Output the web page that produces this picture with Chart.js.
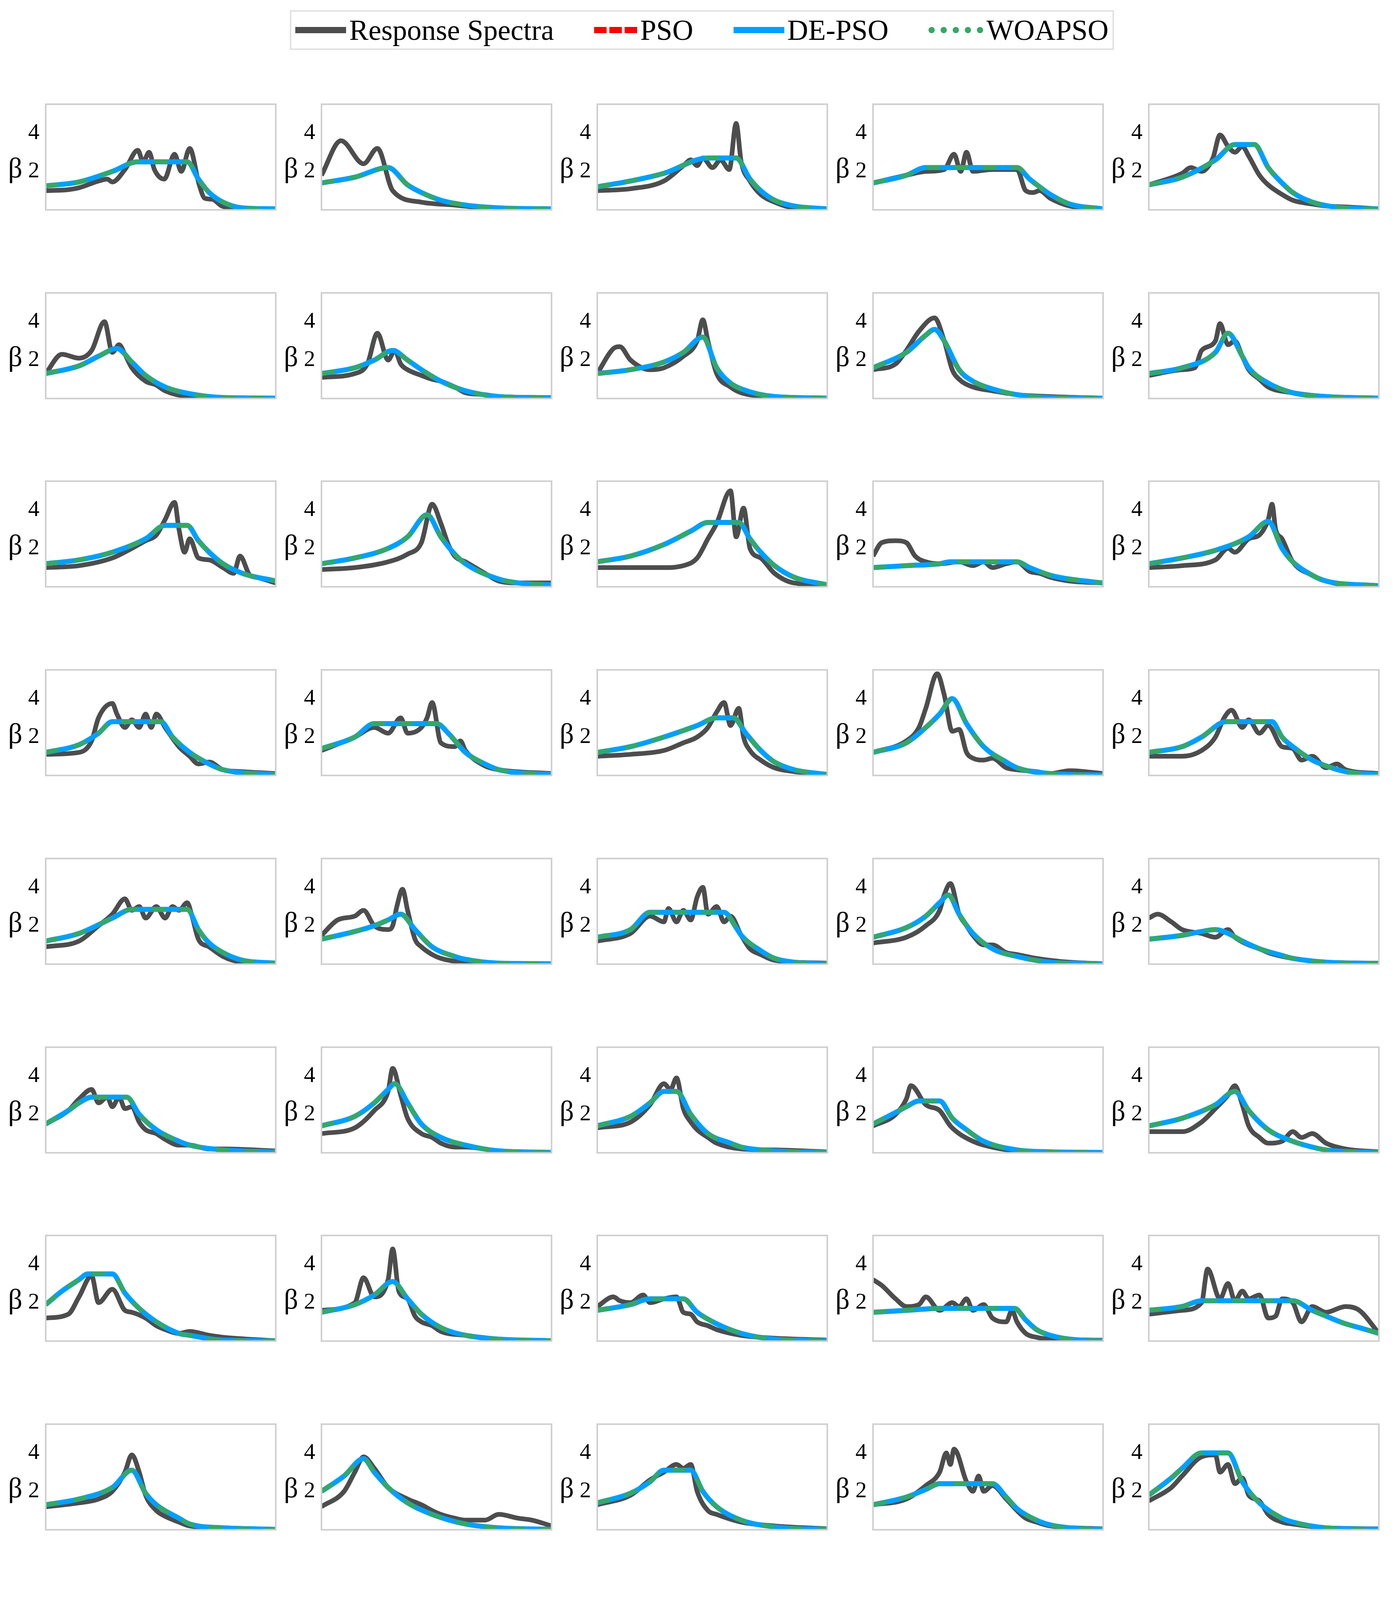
<!DOCTYPE html>
<html>
<head>
<meta charset="utf-8">
<title>Response spectra fitting</title>
<script src="https://cdn.jsdelivr.net/npm/chart.js"></script>
<style>
  body { margin: 0; background: #fff; width: 3579px; height: 5132px; position: relative; font-family: "Liberation Serif", serif; overflow: hidden; }
  canvas { position: absolute; }
  #legend {
    position: absolute; left: 742px; top: 26px; width: 2110px; height: 102px;
    border: 4px solid #e2e2e2; box-sizing: border-box;
    display: flex; align-items: center; justify-content: space-between; padding: 0 10px;
    font-size: 74px; color: #000;
  }
  .item { display: flex; align-items: center; }
  .sw { width: 130px; height: 0; margin-right: 8px; }
</style>
</head>
<body>
<div id="legend">
  <div class="item"><span class="sw" style="border-top:16px solid #4d4d4d"></span>Response Spectra</div>
  <div class="item"><span class="sw" style="border-top:16px dashed #ff0000;width:110px"></span>PSO</div>
  <div class="item"><span class="sw" style="border-top:16px solid #00a0ff"></span>DE-PSO</div>
  <div class="item"><span class="sw" style="border-top:16px dotted #35a865;width:140px"></span>WOAPSO</div>
</div>
<script>
// [period T(s), beta] pairs, row by row
const spectra = [
  [[0.05,1.0],[0.08,1.05],[0.1,1.15],[0.15,1.5],[0.18,1.6],[0.2,1.45],[0.26,2.1],[0.34,3.1],[0.38,2.5],[0.43,3.0],[0.48,2.1],[0.59,1.6],[0.73,2.9],[0.84,2.0],[1.0,3.2],[1.22,1.3],[1.37,0.6],[1.6,0.55],[1.95,0.2],[2.8,0.05],[6,0.05]],
  [[0.05,1.8],[0.075,3.6],[0.12,2.4],[0.16,3.2],[0.22,1.0],[0.4,0.4],[0.8,0.25],[1.5,0.1],[6,0.05]],
  [[0.05,1.0],[0.1,1.1],[0.2,1.5],[0.3,2.3],[0.35,2.6],[0.4,2.3],[0.45,2.7],[0.55,2.2],[0.65,2.6],[0.78,2.1],[0.9,4.5],[1.0,2.5],[1.2,1.5],[1.5,0.8],[2,0.4],[3,0.1],[6,0.05]],
  [[0.05,1.4],[0.1,1.8],[0.15,2.0],[0.22,2.1],[0.27,2.9],[0.31,2.0],[0.35,3.0],[0.4,2.0],[0.6,2.1],[1.0,2.1],[1.2,1.0],[1.4,0.9],[1.6,1.0],[2,0.6],[3,0.2],[6,0.05]],
  [[0.05,1.3],[0.1,1.9],[0.12,2.2],[0.15,2.0],[0.19,2.7],[0.22,3.9],[0.26,3.3],[0.3,3.0],[0.35,3.3],[0.4,2.8],[0.5,1.8],[0.6,1.3],[0.8,0.8],[1,0.5],[1.5,0.3],[2,0.2],[3,0.15],[6,0.05]],
  [[0.05,1.3],[0.07,2.3],[0.1,2.1],[0.13,2.5],[0.17,4.0],[0.2,2.4],[0.23,2.8],[0.26,2.3],[0.3,1.6],[0.4,0.9],[0.5,0.7],[0.6,0.4],[1,0.1],[6,0.02]],
  [[0.05,1.1],[0.1,1.3],[0.13,1.8],[0.16,3.4],[0.2,2.0],[0.23,2.5],[0.26,1.8],[0.3,1.5],[0.4,1.2],[0.5,1.0],[0.6,0.9],[0.8,0.6],[1,0.3],[1.5,0.2],[2,0.1],[6,0.05]],
  [[0.05,1.3],[0.07,2.6],[0.08,2.7],[0.1,2.0],[0.15,1.5],[0.2,1.6],[0.3,2.2],[0.4,3.0],[0.45,4.1],[0.5,3.0],[0.6,1.3],[0.8,0.6],[1,0.3],[2,0.1],[6,0.02]],
  [[0.05,1.5],[0.08,1.8],[0.1,2.5],[0.13,3.5],[0.18,4.2],[0.22,3.0],[0.26,1.5],[0.3,1.0],[0.4,0.6],[0.6,0.4],[1,0.2],[2,0.1],[6,0.02]],
  [[0.05,1.2],[0.1,1.5],[0.13,1.6],[0.15,2.5],[0.2,3.0],[0.22,3.9],[0.26,2.8],[0.3,3.0],[0.35,2.2],[0.4,1.5],[0.5,1.0],[0.6,0.6],[1,0.3],[2,0.1],[6,0.02]],
  [[0.05,1.0],[0.1,1.1],[0.2,1.5],[0.3,2.0],[0.4,2.4],[0.5,2.7],[0.6,3.5],[0.73,4.4],[0.8,3.0],[0.9,1.8],[1.0,2.5],[1.2,1.5],[1.5,1.4],[2,1.0],[2.5,0.7],[2.85,1.6],[3.5,0.6],[4,0.5],[6,0.2]],
  [[0.05,0.9],[0.1,1.0],[0.2,1.3],[0.3,1.7],[0.4,2.3],[0.5,4.3],[0.6,3.3],[0.7,2.2],[0.8,1.6],[1,1.3],[1.5,0.7],[2,0.3],[3,0.2],[6,0.2]],
  [[0.05,1.0],[0.1,1.0],[0.2,1.0],[0.3,1.1],[0.4,1.5],[0.5,2.5],[0.6,3.3],[0.8,5.0],[0.9,2.6],[1.05,4.1],[1.2,2.0],[1.5,1.5],[2,0.7],[3,0.2],[6,0.1]],
  [[0.05,1.6],[0.06,2.3],[0.08,2.4],[0.1,2.3],[0.12,1.6],[0.15,1.3],[0.2,1.2],[0.3,1.3],[0.4,1.1],[0.5,1.3],[0.6,1.0],[0.8,1.2],[1,1.3],[1.3,0.8],[1.6,0.7],[2,0.5],[3,0.3],[6,0.2]],
  [[0.05,1.0],[0.1,1.1],[0.2,1.4],[0.26,2.0],[0.3,1.8],[0.4,2.5],[0.5,2.7],[0.6,3.5],[0.65,4.3],[0.7,3.0],[0.8,2.5],[1,1.3],[1.5,0.6],[2,0.3],[3,0.1],[6,0.05]],
  [[0.05,1.1],[0.1,1.2],[0.13,1.8],[0.15,3.0],[0.2,3.75],[0.22,3.2],[0.26,2.5],[0.3,2.9],[0.35,2.5],[0.4,3.2],[0.45,2.5],[0.5,3.2],[0.6,2.5],[0.8,1.5],[1,1.0],[1.2,0.6],[1.5,0.7],[2,0.3],[3,0.2],[6,0.1]],
  [[0.05,1.3],[0.1,2.0],[0.15,2.5],[0.2,2.2],[0.26,3.0],[0.3,2.2],[0.4,2.5],[0.45,3.0],[0.5,3.8],[0.6,1.7],[0.8,1.5],[0.9,1.8],[1,1.3],[1.5,0.5],[2,0.3],[6,0.1]],
  [[0.05,1.0],[0.1,1.1],[0.2,1.3],[0.3,1.7],[0.4,2.0],[0.5,2.5],[0.6,3.3],[0.7,3.8],[0.8,2.6],[0.95,3.5],[1.05,2.0],[1.2,1.3],[1.5,0.8],[2,0.4],[3,0.2],[6,0.05]],
  [[0.05,1.2],[0.1,1.8],[0.13,2.5],[0.15,3.5],[0.19,5.3],[0.22,4.2],[0.26,2.3],[0.3,2.4],[0.35,1.2],[0.4,0.9],[0.5,0.8],[0.6,0.9],[0.8,0.4],[1,0.3],[1.5,0.2],[2,0.1],[3,0.25],[6,0.1]],
  [[0.05,1.0],[0.1,1.0],[0.15,1.3],[0.2,2.0],[0.24,3.0],[0.28,3.4],[0.35,2.5],[0.4,2.9],[0.5,2.2],[0.6,2.6],[0.8,1.5],[1,1.4],[1.2,0.8],[1.5,1.0],[2,0.4],[2.5,0.6],[3,0.3],[6,0.1]],
  [[0.05,0.9],[0.1,1.2],[0.15,2.0],[0.2,2.6],[0.26,3.4],[0.3,2.8],[0.35,3.0],[0.4,2.4],[0.5,3.0],[0.6,2.4],[0.7,3.0],[0.8,2.8],[0.95,3.2],[1.05,2.5],[1.2,1.3],[1.5,0.9],[2,0.4],[3,0.1],[6,0.05]],
  [[0.05,1.5],[0.07,2.3],[0.1,2.5],[0.12,2.8],[0.15,2.0],[0.2,1.8],[0.22,2.0],[0.24,3.0],[0.27,3.9],[0.3,2.8],[0.35,1.3],[0.4,0.9],[0.5,0.5],[0.6,0.3],[1,0.1],[6,0.02]],
  [[0.05,1.2],[0.1,1.6],[0.15,2.5],[0.2,2.2],[0.22,2.9],[0.26,2.2],[0.3,2.8],[0.35,2.3],[0.4,3.5],[0.45,4.0],[0.5,2.6],[0.6,3.0],[0.7,2.2],[0.8,2.5],[1,1.5],[1.2,0.8],[1.5,0.5],[2,0.2],[6,0.05]],
  [[0.05,1.1],[0.1,1.4],[0.15,2.0],[0.2,2.8],[0.22,3.6],[0.25,4.2],[0.3,2.6],[0.35,2.0],[0.4,1.5],[0.5,1.0],[0.6,1.0],[0.8,0.6],[1,0.5],[1.5,0.3],[2,0.2],[3,0.1],[6,0.02]],
  [[0.05,2.4],[0.06,2.6],[0.08,2.2],[0.1,1.8],[0.15,1.6],[0.2,1.4],[0.26,1.8],[0.3,1.4],[0.4,1.0],[0.5,0.8],[0.6,0.6],[1,0.3],[2,0.1],[6,0.05]],
  [[0.05,1.5],[0.08,2.2],[0.1,2.8],[0.13,3.3],[0.15,2.6],[0.18,2.9],[0.2,2.4],[0.23,2.9],[0.26,2.3],[0.3,2.4],[0.35,1.6],[0.4,1.2],[0.5,1.0],[0.6,0.7],[0.8,0.4],[1,0.4],[1.5,0.2],[2,0.2],[6,0.1]],
  [[0.05,1.0],[0.1,1.3],[0.15,2.2],[0.2,3.2],[0.22,4.4],[0.26,3.0],[0.3,1.8],[0.4,1.0],[0.5,0.8],[0.6,0.5],[0.8,0.3],[1,0.3],[2,0.1],[6,0.02]],
  [[0.05,1.3],[0.1,1.6],[0.15,2.5],[0.2,3.6],[0.23,3.3],[0.26,3.9],[0.3,2.3],[0.35,1.6],[0.4,1.2],[0.5,0.8],[0.6,0.5],[1,0.2],[2,0.15],[6,0.05]],
  [[0.05,1.4],[0.08,2.0],[0.1,2.8],[0.11,3.5],[0.15,2.5],[0.2,2.2],[0.25,1.4],[0.3,1.0],[0.4,0.6],[0.5,0.4],[1,0.1],[6,0.02]],
  [[0.05,1.1],[0.1,1.1],[0.15,1.6],[0.2,2.3],[0.26,3.0],[0.3,3.5],[0.35,2.5],[0.4,1.4],[0.5,0.8],[0.6,0.5],[0.8,0.6],[1,1.1],[1.2,0.8],[1.5,1.0],[2,0.5],[3,0.2],[6,0.05]],
  [[0.05,1.2],[0.08,1.4],[0.1,2.3],[0.13,3.4],[0.15,2.0],[0.2,2.7],[0.26,1.6],[0.3,1.5],[0.4,1.2],[0.5,0.8],[0.6,0.6],[0.8,0.4],[1,0.5],[1.5,0.3],[2,0.2],[6,0.02]],
  [[0.05,1.6],[0.1,2.0],[0.12,3.3],[0.15,2.3],[0.2,3.2],[0.22,4.8],[0.25,2.6],[0.3,2.2],[0.35,1.3],[0.4,1.0],[0.5,0.8],[0.6,0.5],[1,0.3],[2,0.1],[6,0.02]],
  [[0.05,1.8],[0.07,2.3],[0.08,2.1],[0.1,2.0],[0.13,2.4],[0.15,2.0],[0.2,2.2],[0.26,2.3],[0.3,1.5],[0.35,1.4],[0.4,1.0],[0.5,0.8],[0.6,0.6],[1,0.3],[2,0.15],[6,0.05]],
  [[0.05,3.2],[0.06,2.9],[0.08,2.2],[0.1,1.8],[0.13,1.9],[0.15,2.3],[0.2,1.6],[0.26,2.0],[0.3,1.8],[0.35,2.2],[0.4,1.6],[0.5,1.9],[0.6,1.2],[0.8,1.0],[0.9,1.6],[1,1.0],[1.2,0.4],[1.5,0.2],[2,0.1],[6,0.05]],
  [[0.05,1.4],[0.1,1.6],[0.15,2.0],[0.17,3.75],[0.22,2.2],[0.26,3.0],[0.3,2.1],[0.35,2.6],[0.4,2.2],[0.5,2.4],[0.6,1.2],[0.7,1.3],[0.8,2.2],[1.0,2.0],[1.2,1.0],[1.5,1.8],[2,1.5],[3,1.8],[4,1.6],[6,0.4]],
  [[0.05,1.2],[0.1,1.4],[0.15,1.6],[0.2,2.0],[0.26,3.0],[0.3,3.9],[0.35,3.0],[0.4,1.8],[0.5,1.0],[0.6,0.7],[0.8,0.4],[1,0.2],[2,0.1],[6,0.02]],
  [[0.05,1.2],[0.08,2.0],[0.1,3.0],[0.12,3.8],[0.15,3.2],[0.2,2.2],[0.3,1.6],[0.4,1.3],[0.5,1.0],[0.6,0.8],[0.8,0.6],[1,0.5],[1.5,0.5],[2,0.8],[3,0.6],[4,0.5],[6,0.2]],
  [[0.05,1.3],[0.1,1.8],[0.15,2.6],[0.2,3.0],[0.26,3.4],[0.3,3.2],[0.35,3.4],[0.4,2.0],[0.5,1.0],[0.6,0.8],[1,0.4],[2,0.2],[6,0.05]],
  [[0.05,1.3],[0.1,1.6],[0.15,2.3],[0.2,3.0],[0.23,4.0],[0.25,3.4],[0.27,4.2],[0.35,2.5],[0.4,2.0],[0.45,2.8],[0.5,2.0],[0.6,2.3],[0.8,1.6],[1,1.0],[1.2,0.6],[1.5,0.4],[2,0.2],[6,0.05]],
  [[0.05,1.5],[0.08,2.2],[0.1,2.8],[0.15,3.8],[0.2,3.9],[0.22,3.0],[0.26,3.4],[0.3,2.4],[0.35,2.7],[0.4,1.8],[0.5,1.5],[0.6,0.8],[0.8,0.4],[1,0.3],[2,0.1],[6,0.05]],
  [[0.05,1.0],[0.07,1.3],[0.08,2.0],[0.09,3.0],[0.1,3.8],[0.117,5.3],[0.13,3.5],[0.15,1.8],[0.2,0.9],[0.3,0.6],[0.5,0.3],[1,0.15],[2,0.05],[6,0.02]],
  [[0.05,1.1],[0.1,1.2],[0.2,1.8],[0.3,2.2],[0.4,2.6],[0.46,3.3],[0.5,2.8],[0.6,2.3],[0.7,2.0],[0.8,2.6],[0.9,2.4],[1.0,2.0],[1.2,1.0],[1.5,0.5],[2,0.2],[6,0.05]],
  [[0.05,1.1],[0.1,1.3],[0.2,1.8],[0.26,2.8],[0.3,2.4],[0.35,3.2],[0.4,2.2],[0.5,2.3],[0.6,2.2],[0.7,2.5],[0.8,1.8],[1,1.2],[1.2,0.8],[1.5,0.5],[2,0.2],[3,0.1],[6,0.2]],
  [[0.05,1.0],[0.1,1.0],[0.2,1.2],[0.3,1.1],[0.4,1.3],[0.5,1.2],[0.6,1.2],[0.8,1.5],[0.9,1.0],[1.0,1.8],[1.14,4.9],[1.3,3.0],[1.5,1.0],[2,0.3],[3,0.1],[6,0.05]],
  [[0.05,1.0],[0.1,1.1],[0.2,1.4],[0.3,1.5],[0.4,1.7],[0.5,2.2],[0.6,2.5],[0.73,4.0],[0.8,2.5],[0.9,3.0],[1.0,2.3],[1.2,2.0],[1.37,4.5],[1.5,2.0],[2,0.6],[3,0.3],[6,0.05]],
  [[0.05,1.7],[0.07,2.5],[0.09,3.2],[0.12,2.6],[0.15,1.9],[0.18,1.5],[0.2,1.0],[0.23,1.6],[0.26,1.5],[0.3,1.9],[0.35,1.5],[0.4,1.0],[0.5,1.9],[0.6,1.2],[0.7,0.7],[0.9,1.2],[1.0,1.3],[1.2,0.8],[1.5,0.4],[2,0.2],[3,0.1],[6,0.05]],
  [[0.05,0.9],[0.1,0.9],[0.2,1.0],[0.3,1.2],[0.4,1.6],[0.5,2.0],[0.6,2.4],[0.7,3.5],[0.8,5.2],[0.9,3.0],[1.0,2.5],[1.2,4.3],[1.3,3.0],[1.5,1.8],[2,0.8],[3,0.3],[6,0.05]],
  [[0.05,1.2],[0.1,1.5],[0.2,2.0],[0.3,2.8],[0.36,3.4],[0.4,2.5],[0.5,1.3],[0.6,1.5],[0.7,0.8],[0.8,1.0],[1,0.5],[1.5,0.3],[2,0.2],[6,0.05]],
  [[0.05,1.0],[0.1,1.1],[0.2,1.3],[0.3,1.6],[0.4,2.3],[0.45,3.0],[0.49,5.1],[0.55,2.5],[0.6,1.4],[0.8,0.9],[1,0.5],[1.5,0.3],[2,0.1],[6,0.05]],
  [[0.05,1.0],[0.1,1.2],[0.15,1.6],[0.2,2.3],[0.26,2.7],[0.3,2.7],[0.35,2.3],[0.4,2.0],[0.5,1.9],[0.6,2.0],[0.7,2.2],[0.8,1.5],[1,0.8],[1.5,0.3],[2,0.15],[6,0.05]]
];

// fitted design spectra (DE-PSO), same ordering
const fitDEPSO = [
  [[0.05,1.25],[0.1,1.45],[0.2,2.0],[0.34,2.5],[0.95,2.5],[1.2,1.6],[1.5,0.9],[2,0.4],[3,0.1],[6,0.05]],
  [[0.05,1.4],[0.1,1.7],[0.2,2.2],[0.3,1.3],[0.4,0.9],[0.6,0.5],[1,0.25],[2,0.1],[6,0.05]],
  [[0.05,1.2],[0.1,1.5],[0.2,1.9],[0.5,2.7],[0.9,2.7],[1.2,1.6],[1.5,1.0],[2,0.5],[3,0.2],[6,0.05]],
  [[0.05,1.4],[0.1,1.8],[0.15,2.2],[1.0,2.2],[1.3,1.6],[1.6,1.2],[2,0.8],[3,0.3],[6,0.05]],
  [[0.05,1.3],[0.1,1.7],[0.2,2.6],[0.3,3.4],[0.45,3.4],[0.6,2.2],[0.8,1.4],[1,0.9],[1.5,0.4],[3,0.1],[6,0.05]],
  [[0.05,1.3],[0.1,1.7],[0.15,2.2],[0.22,2.6],[0.3,1.9],[0.4,1.2],[0.6,0.6],[1,0.25],[2,0.05],[6,0.02]],
  [[0.05,1.3],[0.1,1.6],[0.15,2.0],[0.22,2.5],[0.3,2.0],[0.4,1.5],[0.6,0.9],[1,0.4],[2,0.1],[6,0.02]],
  [[0.05,1.3],[0.1,1.5],[0.2,1.9],[0.3,2.4],[0.45,3.2],[0.6,1.6],[0.8,0.8],[1,0.5],[2,0.1],[6,0.02]],
  [[0.05,1.6],[0.1,2.4],[0.15,3.3],[0.18,3.6],[0.22,3.0],[0.3,1.5],[0.4,0.9],[0.6,0.5],[1,0.2],[2,0.05],[6,0.02]],
  [[0.05,1.3],[0.1,1.6],[0.2,2.4],[0.26,3.4],[0.35,2.2],[0.4,1.6],[0.6,0.8],[1,0.3],[2,0.1],[6,0.02]],
  [[0.05,1.2],[0.1,1.4],[0.2,1.8],[0.4,2.5],[0.6,3.2],[0.95,3.2],[1.2,2.4],[1.5,1.8],[2,1.2],[3,0.7],[6,0.3]],
  [[0.05,1.2],[0.1,1.5],[0.2,2.0],[0.3,2.6],[0.45,3.75],[0.6,2.6],[0.8,1.7],[1,1.2],[2,0.4],[3,0.2],[6,0.1]],
  [[0.05,1.3],[0.1,1.6],[0.2,2.2],[0.35,2.9],[0.5,3.35],[0.95,3.35],[1.2,2.5],[1.5,1.8],[2,1.1],[3,0.5],[6,0.1]],
  [[0.05,1.0],[0.1,1.1],[0.2,1.2],[0.25,1.3],[1.0,1.3],[1.3,1.0],[2,0.6],[3,0.4],[6,0.2]],
  [[0.05,1.2],[0.1,1.5],[0.2,1.9],[0.4,2.6],[0.6,3.4],[0.8,2.0],[1,1.3],[1.5,0.6],[2,0.3],[6,0.05]],
  [[0.05,1.2],[0.1,1.6],[0.15,2.2],[0.2,2.8],[0.55,2.8],[0.7,2.0],[1,1.2],[1.5,0.6],[2,0.3],[6,0.05]],
  [[0.05,1.4],[0.1,2.0],[0.15,2.7],[0.55,2.7],[0.7,2.2],[1,1.2],[1.5,0.6],[2,0.3],[6,0.05]],
  [[0.05,1.2],[0.1,1.5],[0.2,2.0],[0.4,2.6],[0.6,3.0],[0.85,3.0],[1.1,2.2],[1.5,1.3],[2,0.7],[3,0.3],[6,0.05]],
  [[0.05,1.2],[0.1,1.7],[0.15,2.5],[0.2,3.2],[0.26,4.0],[0.35,2.7],[0.5,1.5],[0.8,0.7],[1,0.4],[2,0.1],[6,0.02]],
  [[0.05,1.2],[0.1,1.5],[0.15,2.0],[0.25,2.8],[0.65,2.8],[0.8,2.0],[1,1.5],[1.5,0.8],[2,0.5],[3,0.2],[6,0.05]],
  [[0.05,1.2],[0.1,1.6],[0.2,2.4],[0.3,2.85],[0.95,2.85],[1.2,1.8],[1.5,1.1],[2,0.6],[3,0.2],[6,0.05]],
  [[0.05,1.3],[0.1,1.7],[0.15,2.0],[0.2,2.3],[0.26,2.6],[0.35,1.8],[0.5,0.9],[0.8,0.4],[1,0.25],[2,0.05],[6,0.02]],
  [[0.05,1.4],[0.1,1.8],[0.15,2.7],[0.7,2.7],[0.9,1.9],[1,1.5],[1.5,0.7],[2,0.3],[3,0.1],[6,0.02]],
  [[0.05,1.4],[0.1,1.9],[0.15,2.5],[0.2,3.2],[0.24,3.6],[0.3,2.6],[0.4,1.6],[0.6,0.8],[1,0.4],[2,0.1],[6,0.02]],
  [[0.05,1.3],[0.1,1.5],[0.15,1.7],[0.2,1.8],[0.26,1.6],[0.35,1.2],[0.5,0.8],[0.8,0.45],[1,0.3],[2,0.1],[6,0.02]],
  [[0.05,1.5],[0.08,2.2],[0.1,2.6],[0.13,2.9],[0.27,2.9],[0.35,2.0],[0.5,1.2],[0.8,0.6],[1,0.4],[2,0.15],[6,0.05]],
  [[0.05,1.4],[0.1,1.9],[0.15,2.6],[0.2,3.3],[0.23,3.6],[0.3,2.6],[0.4,1.5],[0.6,0.8],[1,0.4],[2,0.1],[6,0.02]],
  [[0.05,1.4],[0.1,1.9],[0.15,2.6],[0.2,3.2],[0.26,3.2],[0.35,2.0],[0.5,1.0],[0.8,0.5],[1,0.3],[2,0.1],[6,0.02]],
  [[0.05,1.5],[0.08,2.1],[0.1,2.4],[0.13,2.7],[0.2,2.7],[0.26,1.8],[0.35,1.2],[0.5,0.6],[1,0.15],[2,0.05],[6,0.02]],
  [[0.05,1.4],[0.1,1.8],[0.2,2.5],[0.3,3.2],[0.4,2.2],[0.6,1.2],[1,0.6],[1.5,0.3],[2,0.15],[6,0.02]],
  [[0.05,1.9],[0.07,2.6],[0.1,3.2],[0.12,3.5],[0.2,3.5],[0.26,2.5],[0.35,1.7],[0.5,1.0],[0.8,0.4],[1,0.3],[2,0.05],[6,0.02]],
  [[0.05,1.5],[0.1,1.9],[0.15,2.4],[0.22,3.1],[0.3,2.2],[0.4,1.4],[0.6,0.7],[1,0.3],[2,0.1],[6,0.02]],
  [[0.05,1.6],[0.1,1.9],[0.15,2.2],[0.3,2.2],[0.4,1.5],[0.6,0.9],[1,0.4],[2,0.1],[6,0.02]],
  [[0.05,1.5],[0.1,1.6],[0.2,1.7],[0.95,1.7],[1.2,1.1],[1.5,0.6],[2,0.3],[3,0.1],[6,0.02]],
  [[0.05,1.6],[0.1,1.8],[0.15,2.1],[1.0,2.1],[1.5,1.6],[2,1.3],[3,0.9],[4,0.7],[6,0.4]],
  [[0.05,1.3],[0.1,1.6],[0.2,2.2],[0.3,3.1],[0.4,1.9],[0.5,1.3],[0.8,0.6],[1,0.3],[2,0.1],[6,0.02]],
  [[0.05,2.0],[0.08,2.8],[0.12,3.7],[0.15,3.0],[0.2,2.2],[0.3,1.4],[0.5,0.8],[1,0.3],[2,0.1],[6,0.02]],
  [[0.05,1.4],[0.1,1.9],[0.15,2.5],[0.2,3.1],[0.35,3.1],[0.45,2.0],[0.6,1.2],[1,0.5],[2,0.15],[6,0.02]],
  [[0.05,1.3],[0.1,1.7],[0.15,2.1],[0.2,2.4],[0.6,2.4],[0.8,1.7],[1,1.1],[1.5,0.5],[2,0.25],[3,0.1],[6,0.02]],
  [[0.05,1.8],[0.08,2.7],[0.1,3.2],[0.15,4.0],[0.26,4.0],[0.35,2.5],[0.5,1.4],[0.8,0.6],[1,0.4],[2,0.1],[6,0.02]],
  [[0.05,1.5],[0.06,3.0],[0.07,3.35],[0.1,3.35],[0.15,2.3],[0.2,1.6],[0.3,1.0],[0.5,0.5],[1,0.2],[2,0.05],[6,0.02]],
  [[0.05,1.3],[0.1,1.5],[0.2,1.8],[0.3,2.1],[0.5,2.2],[0.95,2.2],[1.2,1.4],[1.5,0.8],[2,0.4],[3,0.1],[6,0.02]],
  [[0.05,1.3],[0.1,1.6],[0.2,2.1],[0.3,2.2],[0.8,2.2],[1.0,1.6],[1.5,0.8],[2,0.4],[3,0.15],[6,0.02]],
  [[0.05,1.0],[0.1,1.3],[0.2,1.7],[0.4,2.3],[0.6,2.8],[1.0,2.8],[1.2,2.1],[1.5,1.3],[2,0.7],[3,0.3],[6,0.05]],
  [[0.05,1.1],[0.1,1.4],[0.2,1.8],[0.4,2.4],[0.6,2.95],[1.0,2.95],[1.3,2.2],[1.6,1.4],[2,0.9],[3,0.4],[6,0.05]],
  [[0.05,1.4],[0.9,1.4],[1.2,0.9],[1.5,0.6],[2,0.3],[3,0.1],[6,0.05]],
  [[0.05,1.1],[0.1,1.4],[0.2,1.9],[0.3,2.4],[0.5,3.45],[0.95,3.45],[1.2,2.4],[1.5,1.6],[2,0.9],[3,0.4],[6,0.05]],
  [[0.05,1.3],[0.1,1.6],[0.2,2.2],[0.3,2.7],[0.38,2.95],[0.5,2.0],[0.6,1.5],[0.8,0.9],[1,0.6],[2,0.2],[6,0.02]],
  [[0.05,1.1],[0.1,1.4],[0.2,1.9],[0.35,2.5],[0.5,3.1],[0.6,2.0],[0.8,1.0],[1,0.6],[2,0.15],[6,0.02]],
  [[0.05,1.2],[0.1,1.5],[0.15,1.9],[0.2,2.1],[0.75,2.1],[1.0,1.3],[1.5,0.6],[2,0.3],[3,0.1],[6,0.02]]
];
// PSO and WOAPSO fits coincide with DE-PSO almost everywhere
const fitPSO = fitDEPSO.slice();
fitPSO[47] = [[0.05,1.3],[0.1,1.6],[0.2,2.2],[0.3,2.7],[0.38,2.95],[0.5,2.3],[0.6,1.8],[0.8,1.0],[1,0.6],[2,0.2],[6,0.02]];
const fitWOAPSO = fitDEPSO;

const xTicks = [0.05,0.06,0.07,0.08,0.09,0.1,0.2,0.3,0.4,0.5,0.6,0.7,0.8,0.9,1,2,3,4,5,6];
const yTicks = [2, 4];

const plotW = 589, plotH = 316, padL = 130, padT = 20;
const font = 'Liberation Serif';

const frame = {
  id: 'frame',
  afterDraw(chart) {
    const a = chart.chartArea, c = chart.ctx;
    c.save();
    c.strokeStyle = '#cfcfcf';
    c.lineWidth = 4;
    c.strokeRect(a.left, a.top, a.right - a.left, a.bottom - a.top);
    c.fillStyle = '#000';
    c.font = '72px ' + font;
    c.textAlign = 'center';
    c.textBaseline = 'middle';
    c.fillText('β', a.left - 78, a.top + 168);
    c.restore();
  }
};

function pts(arr) { return arr.map(p => ({ x: p[0], y: p[1] })); }

for (let i = 0; i < spectra.length; i++) {
  const row = Math.floor(i / 5), col = i % 5;
  const last = row === 9;
  const left = 117 + col * 706, top = 244 + row * 482.7;
  const cv = document.createElement('canvas');
  const cw = padL + plotW + 20, ch = padT + plotH + (last ? 230 : 20);
  cv.width = cw; cv.height = ch;
  cv.style.left = (left - padL) + 'px';
  cv.style.top = Math.round(top - padT) + 'px';
  document.body.appendChild(cv);

  // lower order is drawn on top
  const line = (label, data, color, w, dash, order) => ({
    label, data: pts(data), borderColor: color, borderWidth: w, borderDash: dash || [], order,
    pointRadius: 0, showLine: true, fill: false, cubicInterpolationMode: 'monotone'
  });

  new Chart(cv.getContext('2d'), {
    type: 'scatter',
    data: {
      datasets: [
        line('Response Spectra', spectra[i], '#4d4d4d', 12, null, 3),
        line('PSO', fitPSO[i], '#ff0000', 12, [30, 30], 2),
        line('DE-PSO', fitDEPSO[i], '#00a0ff', 13, null, 1),
        line('WOAPSO', fitWOAPSO[i], '#35a865', 11, [34, 38], 0)
      ]
    },
    options: {
      responsive: false, animation: false, devicePixelRatio: 1,
      layout: { padding: { left: 0, top: padT, right: 20, bottom: 0 } },
      plugins: { legend: { display: false }, tooltip: { enabled: false } },
      scales: {
        x: {
          type: 'logarithmic', min: 0.05, max: 6,
          afterBuildTicks: s => { s.ticks = xTicks.map(v => ({ value: v })); },
          afterFit: s => { s.height = last ? 230 : 20; },
          grid: { drawOnChartArea: false, drawTicks: false },
          border: { display: false },
          ticks: {
            display: last, autoSkip: false, maxRotation: 0, padding: 30,
            color: '#000', font: { family: font, size: 60 },
            callback: v => (v === 0.1 ? '0.1' : v === 1 ? '1' : '')
          },
          title: { display: last, text: 'period T(s)', color: '#000', font: { family: font, size: 70 }, padding: { top: 20 } }
        },
        y: {
          min: 0, max: 5.5,
          afterBuildTicks: s => { s.ticks = yTicks.map(v => ({ value: v })); },
          afterFit: s => { s.width = padL; },
          grid: { display: false },
          border: { display: false },
          ticks: { color: '#000', padding: 8, font: { family: font, size: 58 } }
        }
      }
    },
    plugins: [frame]
  });
}
</script>
</body>
</html>
